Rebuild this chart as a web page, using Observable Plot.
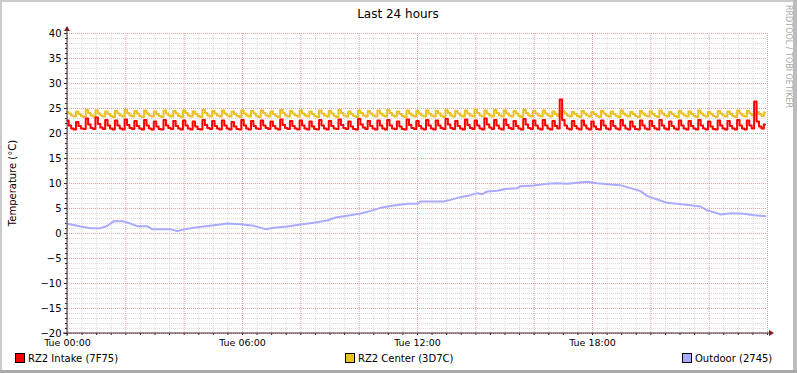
<!DOCTYPE html>
<html>
<head>
<meta charset="utf-8">
<script src="https://cdn.jsdelivr.net/npm/d3@7"></script>
<script src="https://cdn.jsdelivr.net/npm/@observablehq/plot@0.6"></script>
<style>
  html, body { margin: 0; padding: 0; background: #fff; }
  #chart { width: 797px; height: 373px; }
</style>
</head>
<body>
<div id="chart"></div>
<script>
// ---- Data ----
const titleText = "Last 24 hours";
const yLabelText = "Temperature (°C)";
const creditText = "RRDTOOL / TOBI OETIKER";

const seriesNames = ["RZ2 Intake (7F75)", "RZ2 Center (3D7C)", "Outdoor (2745)"];
const seriesColors = ["#ff0000", "#ebc022", "#aaaaff"];

const yTicks = [-20, -15, -10, -5, 0, 5, 10, 15, 20, 25, 30, 35, 40];
const xTickHours = [0, 6, 12, 18];
const xTickLabels = ["Tue 00:00", "Tue 06:00", "Tue 12:00", "Tue 18:00"];

// 5-minute samples, one row per hour
const intakeValues = [
  22.6,21.6,21.0,20.8, 22.3,21.5,21.0,20.9, 23.0,21.8,21.1,20.9,
  23.2,21.9,21.2,20.9, 22.7,21.6,21.0,20.8, 22.6,21.6,21.0,20.8,
  22.8,21.7,21.1,20.9, 22.5,21.5,21.0,20.8, 22.7,21.6,21.0,20.8,
  22.4,21.4,20.9,20.8, 22.7,21.6,21.1,20.9, 22.5,21.5,21.0,20.8,
  22.6,21.6,21.0,20.8, 22.4,21.4,20.9,20.8, 22.7,21.7,21.1,20.9,
  22.5,21.5,21.0,20.8, 22.6,21.6,21.0,20.8, 22.3,21.4,20.9,20.8,
  22.7,21.6,21.0,20.8, 22.5,21.5,21.0,20.9, 22.6,21.6,21.1,20.9,
  22.4,21.5,21.0,20.8, 22.8,21.7,21.1,20.9, 22.5,21.5,21.0,20.8,
  22.6,21.6,21.0,20.8, 22.4,21.4,20.9,20.8, 22.7,21.6,21.0,20.8,
  22.5,21.5,21.0,20.9, 22.8,21.7,21.1,20.9, 22.4,21.4,20.9,20.8,
  22.9,21.8,21.2,20.9, 22.5,21.5,21.0,20.8, 22.6,21.6,21.0,20.8,
  22.7,21.6,21.0,20.9, 22.4,21.4,20.9,20.8, 22.8,21.7,21.1,20.9,
  22.5,21.5,21.0,20.8, 22.7,21.6,21.0,20.8, 22.6,21.6,21.1,20.9,
  22.9,21.8,21.1,20.9, 22.5,21.5,21.0,20.8, 22.8,21.7,21.1,20.9,
  22.6,21.6,21.0,20.8, 23.0,21.8,21.2,20.9, 22.7,21.6,21.0,20.8,
  22.8,21.7,21.1,20.9, 22.5,21.5,21.0,20.8, 22.9,21.8,21.1,20.9,
  22.6,21.6,21.0,20.8, 22.7,21.6,21.0,20.8, 22.5,21.5,21.0,26.8,
  22.7,21.6,21.0,20.8, 22.5,21.5,21.0,20.8, 22.6,21.6,21.0,20.8,
  22.4,21.4,20.9,20.8, 22.6,21.6,21.0,20.8, 22.5,21.5,21.0,20.8,
  22.7,21.6,21.0,20.8, 22.4,21.4,20.9,20.8, 22.6,21.6,21.0,20.8,
  22.5,21.5,21.0,20.8, 22.7,21.6,21.0,20.8, 22.4,21.5,21.0,20.8,
  22.6,21.6,21.0,20.8, 22.5,21.5,21.0,20.8, 22.7,21.6,21.0,20.8,
  22.4,21.4,20.9,20.8, 22.6,21.6,21.0,20.8, 22.5,21.5,21.0,20.8,
  22.7,21.6,21.0,20.8, 22.6,21.6,21.0,26.4, 22.4,21.4,21.0,21.8
];

const centerValues = [
  24.3,24.0,23.6,23.4, 24.4,23.9,23.5,23.3, 24.7,24.1,23.6,23.4,
  24.6,24.0,23.6,23.4, 24.4,23.9,23.5,23.3, 24.5,24.0,23.6,23.4,
  24.7,24.1,23.6,23.4, 24.5,24.0,23.5,23.3, 24.6,24.0,23.6,23.4,
  24.4,23.9,23.5,23.3, 24.6,24.0,23.6,23.4, 24.5,24.0,23.5,23.3,
  24.6,24.1,23.6,23.4, 24.4,23.9,23.5,23.3, 24.7,24.1,23.6,23.4,
  24.5,24.0,23.6,23.4, 24.6,24.0,23.6,23.4, 24.4,23.9,23.5,23.3,
  24.6,24.0,23.6,23.4, 24.5,24.0,23.5,23.3, 24.6,24.1,23.6,23.4,
  24.4,23.9,23.5,23.3, 24.7,24.1,23.6,23.4, 24.5,24.0,23.6,23.4,
  24.6,24.0,23.6,23.4, 24.4,23.9,23.5,23.3, 24.6,24.0,23.6,23.4,
  24.5,24.0,23.5,23.3, 24.7,24.1,23.6,23.4, 24.4,23.9,23.5,23.3,
  24.6,24.1,23.6,23.4, 24.5,24.0,23.6,23.4, 24.6,24.0,23.6,23.4,
  24.7,24.1,23.6,23.4, 24.4,23.9,23.5,23.3, 24.6,24.0,23.6,23.4,
  24.5,24.0,23.6,23.4, 24.6,24.0,23.6,23.4, 24.5,24.0,23.5,23.3,
  24.7,24.1,23.6,23.4, 24.5,24.0,23.6,23.4, 24.6,24.0,23.6,23.4,
  24.8,24.1,23.6,23.4, 24.6,24.0,23.6,23.4, 24.7,24.1,23.6,23.4,
  24.6,24.0,23.6,23.4, 24.5,24.0,23.5,23.3, 24.7,24.1,23.6,23.4,
  24.5,24.0,23.6,23.4, 24.6,24.0,23.6,23.4, 24.4,23.9,23.5,24.4,
  24.5,24.0,23.6,23.4, 24.3,23.9,23.5,23.3, 24.5,24.0,23.6,23.4,
  24.3,23.9,23.5,23.3, 24.5,24.0,23.6,23.4, 24.4,23.9,23.5,23.3,
  24.6,24.0,23.6,23.4, 24.3,23.9,23.5,23.3, 24.5,24.0,23.6,23.4,
  24.4,23.9,23.5,23.3, 24.6,24.0,23.6,23.4, 24.3,23.9,23.5,23.3,
  24.5,24.0,23.6,23.4, 24.4,23.9,23.5,23.3, 24.6,24.0,23.6,23.4,
  24.3,23.9,23.5,23.3, 24.5,24.0,23.6,23.4, 24.4,23.9,23.5,23.3,
  24.6,24.0,23.6,23.4, 24.5,24.0,23.6,23.8, 24.3,23.9,23.5,24.2
];

const outdoorHours = [
  0, 0.45, 0.79, 1.13, 1.36, 1.59, 1.88, 2.05, 2.39, 2.73, 2.90, 3.53, 3.76, 3.99,
  4.33, 4.67, 5.02, 5.48, 5.93, 6.39, 6.79, 7.07, 7.53, 7.99, 8.44, 8.90, 9.19, 9.59,
  10.05, 10.39, 10.73, 11.19, 11.65, 11.99, 12.10, 12.90, 13.13, 13.47, 13.82, 14.05,
  14.22, 14.39, 14.73, 15.08, 15.42, 15.53, 15.99, 16.45, 16.79, 17.13, 17.48, 17.82,
  18.16, 18.62, 18.96, 19.30, 19.65, 19.88, 20.22, 20.56, 20.90, 21.36, 21.70, 21.93,
  22.16, 22.39, 22.73, 23.19, 23.53, 23.93
];
const outdoorValues = [
  1.93, 1.4, 1.07, 1.07, 1.5, 2.47, 2.47, 2.2, 1.47, 1.47, 0.87, 0.87, 0.47, 0.8,
  1.13, 1.4, 1.67, 2.0, 1.87, 1.53, 0.87, 1.13, 1.4, 1.8, 2.13, 2.6, 3.2, 3.53,
  4.0, 4.53, 5.13, 5.6, 5.93, 5.93, 6.4, 6.4, 6.73, 7.27, 7.67, 8.07,
  7.87, 8.4, 8.53, 8.93, 9.07, 9.47, 9.6, 9.93, 10.07, 9.93, 10.13, 10.33,
  10.07, 9.8, 9.67, 9.07, 8.47, 7.47, 6.8, 6.13, 5.93, 5.67, 5.4, 4.6,
  4.27, 3.8, 4.07, 3.93, 3.67, 3.47
];

// ---- Build tables ----
const intake = intakeValues.map((v, i) => ({h: i / 12, v}));
const center = centerValues.map((v, i) => ({h: i / 12, v}));
const outdoor = outdoorHours.map((h, i) => ({h, v: outdoorValues[i]}));

const yMinor = d3.range(-20, 41).filter(d => d % 5 !== 0);
const xMinor = d3.range(0, 24.01, 0.5).filter(d => d % 2 !== 0);
const xMajor = d3.range(0, 24.01, 2);

const W = 797, H = 373;
const axisColor = "#3a2a2a";
const minorGrid = "#dadada";
const majorGrid = "#e8a0a0";

const plot = Plot.plot({
  width: W,
  height: H,
  marginLeft: 67,
  marginRight: 30,
  marginTop: 33,
  marginBottom: 40,
  style: {fontFamily: "DejaVu Sans", fontSize: "10px", background: "transparent", color: "#000"},
  x: {domain: [0, 24], axis: null},
  y: {domain: [-20, 40], axis: null},
  marks: [
    Plot.ruleY(yMinor, {stroke: minorGrid, strokeDasharray: "1,1"}),
    Plot.ruleX(xMinor, {stroke: minorGrid, strokeDasharray: "1,1"}),
    Plot.ruleY(yTicks, {stroke: majorGrid, strokeDasharray: "1,1"}),
    Plot.ruleX(xMajor, {stroke: majorGrid, strokeDasharray: "1,1"}),
    Plot.axisY(d3.range(-20, 41), {tickSize: 2, text: null, label: null, stroke: axisColor}),
    Plot.axisY(yTicks, {tickSize: 3, tickPadding: 3, fontSize: 10, label: null, stroke: axisColor, fill: "#000"}),
    Plot.axisX(d3.range(0, 24.01, 0.5), {tickSize: 2, text: null, label: null, stroke: axisColor}),
    Plot.axisX(xTickHours, {tickSize: 2, tickPadding: 4, fontSize: 9.5, label: null, tickFormat: (d, i) => xTickLabels[i], fill: "#000", stroke: axisColor}),
    Plot.line(center, {x: "h", y: "v", stroke: seriesColors[1], strokeWidth: 2, curve: "step"}),
    Plot.line(intake, {x: "h", y: "v", stroke: seriesColors[0], strokeWidth: 2, curve: "step"}),
    Plot.line(outdoor, {x: "h", y: "v", stroke: seriesColors[2], strokeWidth: 2})
  ]
});

document.getElementById("chart").appendChild(plot);

// ---- Decorations: background, frame, axis lines with arrows, texts, legend ----
const svg = d3.select(plot);
const xs = plot.scale("x"), ys = plot.scale("y");
const x0 = xs.apply(0), y0 = ys.apply(-20), yTop = ys.apply(40);
const xEnd = xs.apply(24);

svg.insert("rect", ":first-child").attr("x", 0).attr("y", 0).attr("width", W).attr("height", H).attr("fill", "#ffffff");
// 3D frame
svg.append("rect").attr("x", 0).attr("y", 0).attr("width", W).attr("height", 2).attr("fill", "#cbcbcb");
svg.append("rect").attr("x", 0).attr("y", 0).attr("width", 2).attr("height", H).attr("fill", "#cbcbcb");
svg.append("rect").attr("x", W - 4).attr("y", 0).attr("width", 4).attr("height", H).attr("fill", "#bdbdbd");
svg.append("rect").attr("x", 0).attr("y", H - 3).attr("width", W).attr("height", 3).attr("fill", "#a9a9a9");

// axis lines
svg.append("line").attr("x1", x0 - 4).attr("x2", xEnd + 4).attr("y1", y0).attr("y2", y0).attr("stroke", axisColor);
svg.append("line").attr("x1", x0).attr("x2", x0).attr("y1", y0 + 3).attr("y2", yTop - 4).attr("stroke", axisColor);
// arrows
svg.append("path").attr("d", `M${xEnd + 2},${y0 - 3} L${xEnd + 7},${y0} L${xEnd + 2},${y0 + 3} Z`).attr("fill", "#7f1f1f");
svg.append("path").attr("d", `M${x0 - 3},${yTop - 2} L${x0},${yTop - 7} L${x0 + 3},${yTop - 2} Z`).attr("fill", "#7f1f1f");

const txt = () => svg.append("text").attr("font-family", "DejaVu Sans").attr("fill", "#000").attr("text-anchor", "start");

// title
txt().attr("x", 398).attr("y", 18).attr("text-anchor", "middle").attr("font-size", 12).text(titleText);
// y label
txt().attr("transform", `translate(16,${(y0 + yTop) / 2}) rotate(-90)`).attr("text-anchor", "middle")
  .attr("font-size", 10).text(yLabelText);
// credit
txt().attr("transform", `translate(786,5) rotate(90)`).attr("font-size", 8).attr("fill", "#a8a8a8").text(creditText);

// legend
const legendX = [15, 345, 682];
seriesNames.forEach((name, i) => {
  svg.append("rect").attr("x", legendX[i] + 0.5).attr("y", 353.5).attr("width", 9).attr("height", 9)
    .attr("fill", seriesColors[i]).attr("stroke", "#000");
  txt().attr("x", legendX[i] + 13).attr("y", 362).attr("font-size", 10).text(name);
});
</script>
</body>
</html>
